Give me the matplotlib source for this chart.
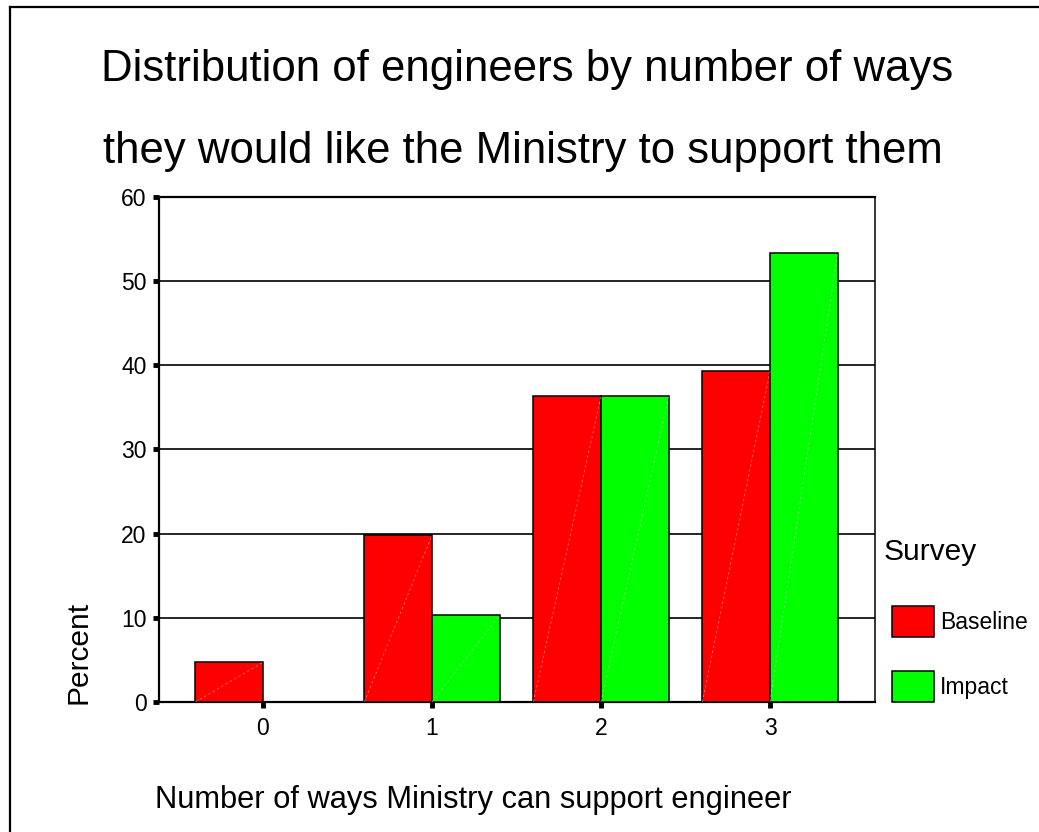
import matplotlib
matplotlib.use("Agg")
import matplotlib.pyplot as plt
from matplotlib.lines import Line2D
import numpy as np

plt.rcParams['font.family'] = ['Liberation Sans', 'DejaVu Sans']

# Données
categories = [0, 1, 2, 3]
baseline = [4.7, 19.8, 36.3, 39.3]
impact = [0.0, 10.3, 36.3, 53.3]
series_names = ['Baseline', 'Impact']
series_colors = ['#ff0000', '#00ff00']
y_ticks = [0, 10, 20, 30, 40, 50, 60]

fig = plt.figure(figsize=(10.39, 8.32), dpi=100)
ax = fig.add_axes([0.153, 0.1563, 0.689, 0.607])

x = np.array(categories, dtype=float)
w = 0.40

for i, (vals, name, col) in enumerate(zip([baseline, impact], series_names, series_colors)):
    left = x - w if i == 0 else x
    ax.bar(left, vals, width=w, align='edge', color=col, edgecolor='black',
           linewidth=1.1, label=name, zorder=3)
    # fine diagonale claire dans chaque barre
    for xl, v in zip(left, vals):
        if v > 0:
            ax.plot([xl, xl + w], [0, v], color='white', lw=0.6, alpha=0.45,
                    ls=(0, (3, 3)), zorder=4)

ax.set_xlim(-0.615, 3.62)
ax.set_ylim(0, 60)
ax.set_yticks(y_ticks)
ax.set_xticks(categories)
ax.set_xticklabels([str(c) for c in categories])

ax.yaxis.grid(True, color='black', linewidth=1.2, zorder=1)
ax.set_axisbelow(True)

for side in ['left', 'top', 'bottom']:
    ax.spines[side].set_linewidth(1.6)
ax.spines['right'].set_linewidth(1.1)

ax.tick_params(axis='both', direction='out', length=4, width=3.5,
               labelsize=16.5, colors='black', pad=5)
ax.tick_params(axis='x', pad=7)

# Légende (titre posé à part)
fig.text(0.850, 0.337, 'Survey', ha='left', va='center', fontsize=21.5)
leg = ax.legend(loc='upper left',
                bbox_to_anchor=(0.8585, 0.2716), bbox_transform=fig.transFigure,
                frameon=False, fontsize=16.5,
                handlelength=1.83, handleheight=1.70, handletextpad=0.26,
                labelspacing=1.48, borderpad=0, borderaxespad=0)

# Titre et étiquettes des axes
fig.text(0.507, 0.916, 'Distribution of engineers by number of ways',
         ha='center', va='center', fontsize=31.5)
fig.text(0.503, 0.818, 'they would like the Ministry to support them',
         ha='center', va='center', fontsize=31.5)
fig.text(0.149, 0.0385, 'Number of ways Ministry can support engineer',
         ha='left', va='center', fontsize=22.2)
fig.text(0.076, 0.216, 'Percent', ha='center', va='center',
         rotation=90, fontsize=21.5)

# Cadre de la figure (haut et gauche)
fig.add_artist(Line2D([10 / 1039, 10 / 1039], [0, 1 - 7 / 832], color='black',
                      lw=1.6, transform=fig.transFigure))
fig.add_artist(Line2D([10 / 1039, 1], [1 - 7 / 832, 1 - 7 / 832], color='black',
                      lw=1.6, transform=fig.transFigure))

fig.savefig('out.png', dpi=100)
